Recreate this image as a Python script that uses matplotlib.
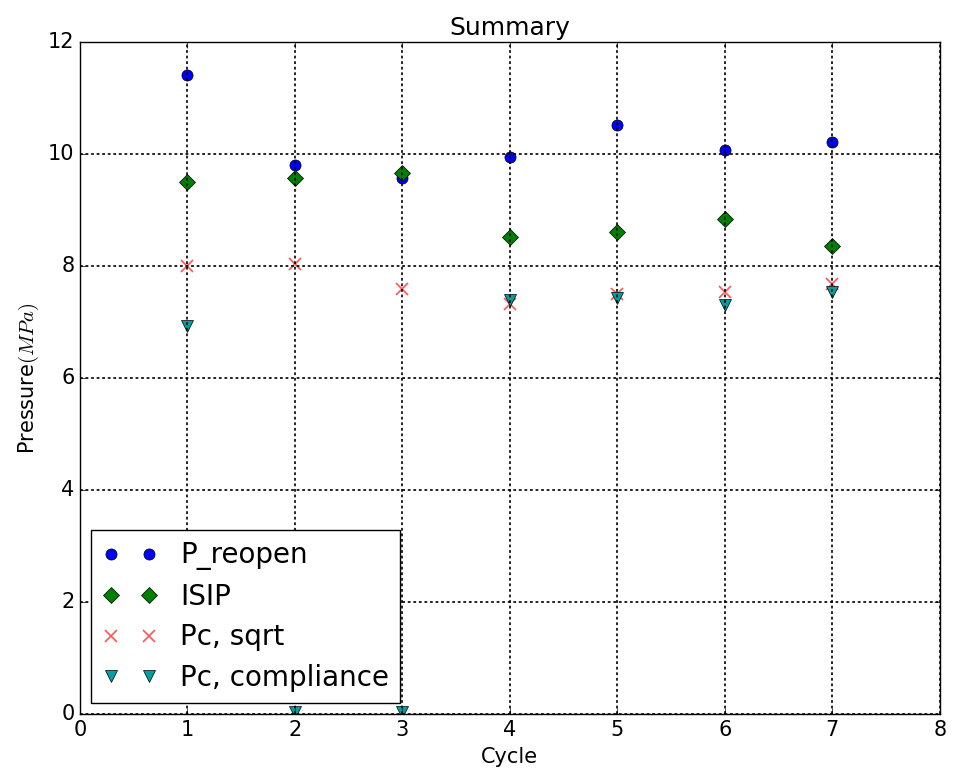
import matplotlib
matplotlib.use('Agg')
import matplotlib.pyplot as plt

plt.style.use('classic')
plt.rcParams.update({'font.size': 15})

cycles = [1, 2, 3, 4, 5, 6, 7]
p_reopen = [11.41, 9.80, 9.57, 9.95, 10.52, 10.07, 10.21]
isip = [9.50, 9.58, 9.66, 8.52, 8.61, 8.84, 8.36]
pc_sqrt = [8.00, 8.04, 7.59, 7.32, 7.50, 7.54, 7.68]
pc_compliance = [6.93, 0.03, 0.03, 7.39, 7.43, 7.30, 7.54]

fig = plt.figure(figsize=(9.57, 7.75), dpi=100)
ax = fig.add_axes([0.0836, 0.0787, 0.8984, 0.8671])

ax.plot(cycles, p_reopen, 'o', color='b', markersize=8, label='P_reopen')
ax.plot(cycles, isip, 'D', color='g', markersize=8, label='ISIP')
ax.plot(cycles, pc_sqrt, 'x', color='#ff5555', markersize=8, mew=1.2, label='Pc, sqrt')
ax.plot(cycles, pc_compliance, 'v', color='#00a0a0', markersize=8, label='Pc, compliance')

ax.set_xlim(0, 8)
ax.set_ylim(0, 12)
ax.grid(True, linestyle=(0, (2, 2)), color='k', linewidth=1.2)
ax.set_title('Summary')
ax.set_xlabel('Cycle')
ax.set_ylabel('Pressure$(MPa)$')
ax.legend(loc='lower left', numpoints=2, fontsize=20, borderaxespad=0.4,
          handlelength=2.0, handletextpad=0.8, labelspacing=0.45)

plt.savefig('out.png', dpi=100)
